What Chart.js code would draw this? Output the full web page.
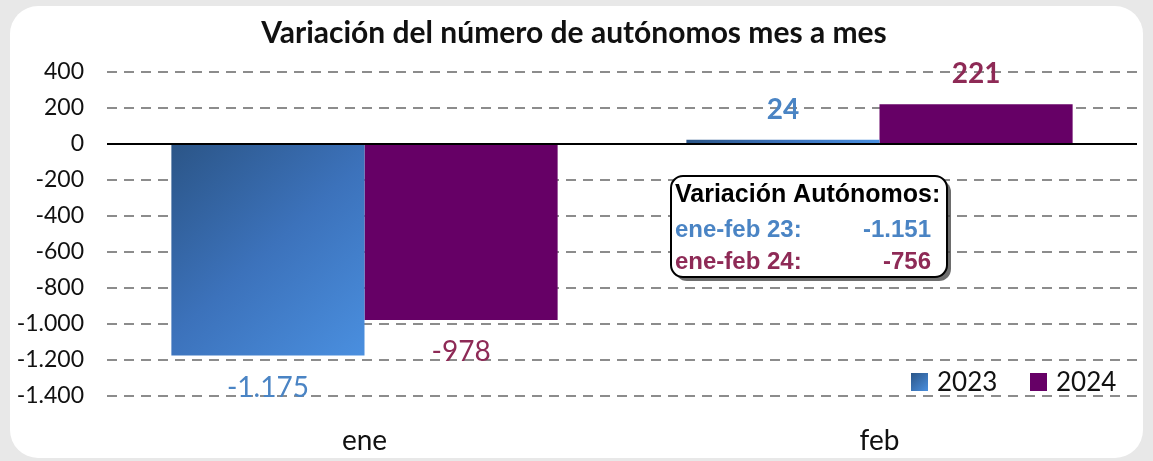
<!DOCTYPE html>
<html>
<head>
<meta charset="utf-8">
<script src="https://cdn.jsdelivr.net/npm/chart.js@4.4.1/dist/chart.umd.min.js"></script>
<style>
  body { margin: 0; background: #e8e8e8; }
  #panel { position: absolute; left: 10px; top: 6px; width: 1133px; height: 452px;
           background: #fff; border-radius: 28px; overflow: hidden; }
  canvas { display: block; }
</style>
</head>
<body>
<div id="panel"><canvas id="myChart" width="1133" height="452"></canvas></div>
<script>
const meses = ['ene', 'feb'];
const serie2023 = [-1175, 24];
const serie2024 = [-978, 221];
const nombres = ['2023', '2024'];
const titulo = 'Variación del número de autónomos mes a mes';
const cajaTitulo = 'Variación Autónomos:';
const cajaFilas = [['ene-feb 23:', '-1.151'], ['ene-feb 24:', '-756']];

const azulTexto = '#4a84c4';
const granate = '#8e2a56';
const morado = '#660066';

function fmt(n) { return n.toLocaleString('de-DE'); }

function gradAzul(context) {
    const chart = context.chart;
    const area = chart.chartArea;
    if (!area || context.type !== 'data') return '#3d74bd';
    const xs = chart.scales.x, ys = chart.scales.y;
    const v = context.raw;
    const catW = (area.right - area.left) / meses.length;
    const c = xs.getPixelForValue(context.dataIndex);
    const left = c - catW * 0.375, right = c;
    const top = ys.getPixelForValue(Math.max(0, v)), bottom = ys.getPixelForValue(Math.min(0, v));
    const g = chart.ctx.createLinearGradient(left, top, right, bottom);
    g.addColorStop(0, '#2b5587');
    g.addColorStop(0.5, '#3c72bb');
    g.addColorStop(1, '#4a8fdf');
    return g;
}

const extras = {
    id: 'extras',
    beforeDatasetsDraw(chart) {
        const ctx = chart.ctx, a = chart.chartArea;
        const y0 = chart.scales.y.getPixelForValue(0);
        ctx.save();
        ctx.strokeStyle = '#000';
        ctx.lineWidth = 2;
        ctx.beginPath();
        ctx.moveTo(a.left, y0);
        ctx.lineTo(a.right, y0);
        ctx.stroke();
        ctx.restore();
    },
    afterDatasetsDraw(chart) {
        const ctx = chart.ctx;
        ctx.save();
        // titulo
        ctx.fillStyle = '#111';
        ctx.font = 'bold 30px Lato';
        ctx.textAlign = 'center';
        ctx.textBaseline = 'middle';
        ctx.fillText(titulo, 564, 27);

        // etiquetas de valor
        const colores = [azulTexto, granate];
        chart.data.datasets.forEach((ds, di) => {
            chart.getDatasetMeta(di).data.forEach((el, i) => {
                const v = ds.data[i];
                ctx.fillStyle = colores[di];
                ctx.font = (i === 1 ? 'bold ' : '') + '28px Lato';
                const y = v < 0 ? el.y + 32 : el.y - 30;
                ctx.fillText(fmt(v), el.x, y);
            });
        });

        // cuadro de nota
        const bx = 661, by = 170, bw = 276, bh = 101;
        ctx.fillStyle = 'rgba(60,60,60,0.75)';
        ctx.beginPath();
        ctx.roundRect(bx + 4, by + 4, bw, bh, 12);
        ctx.fill();
        ctx.fillStyle = '#fff';
        ctx.strokeStyle = '#000';
        ctx.lineWidth = 2;
        ctx.beginPath();
        ctx.roundRect(bx, by, bw, bh, 12);
        ctx.fill();
        ctx.stroke();
        ctx.textAlign = 'left';
        ctx.fillStyle = '#000';
        ctx.font = 'bold 25px "Liberation Sans"';
        ctx.fillText(cajaTitulo, bx + 4, by + 19);
        ctx.font = 'bold 24px "Liberation Sans"';
        const filaColor = [azulTexto, granate];
        cajaFilas.forEach((f, i) => {
            const yy = by + 54 + i * 32;
            ctx.fillStyle = filaColor[i];
            ctx.textAlign = 'left';
            ctx.fillText(f[0], bx + 4, yy);
            ctx.textAlign = 'right';
            ctx.fillText(f[1], bx + 260, yy);
        });

        // leyenda
        ctx.textAlign = 'left';
        ctx.font = '26px Lato';
        const lx = [901, 1020], ly = 367;
        [0, 1].forEach(k => {
            if (k === 0) {
                const g = ctx.createLinearGradient(lx[k], ly, lx[k] + 17, ly + 18);
                g.addColorStop(0, '#2b5587');
                g.addColorStop(1, '#4a8fdf');
                ctx.fillStyle = g;
            } else {
                ctx.fillStyle = morado;
            }
            ctx.fillRect(lx[k], ly, 17, 18);
            ctx.fillStyle = '#111';
            ctx.fillText(nombres[k], lx[k] + 26, ly + 10);
        });
        ctx.restore();
    }
};

const myChart = new Chart(document.getElementById('myChart'), {
    type: 'bar',
    data: {
        labels: meses,
        datasets: [
            { label: nombres[0], data: serie2023, backgroundColor: gradAzul },
            { label: nombres[1], data: serie2024, backgroundColor: morado }
        ]
    },
    options: {
        responsive: false,
        animation: false,
        events: [],
        layout: { padding: { top: 66, right: 6, left: 0, bottom: 0 } },
        datasets: { bar: { categoryPercentage: 0.75, barPercentage: 1 } },
        plugins: { legend: { display: false }, tooltip: { enabled: false }, title: { display: false } },
        scales: {
            x: {
                grid: { display: false, drawTicks: false },
                border: { display: false },
                ticks: { color: '#111', font: { family: 'Lato', size: 28 }, padding: 28 },
                afterFit(s) { s.height = 62; }
            },
            y: {
                min: -1400, max: 400,
                grid: {
                    drawTicks: false,
                    lineWidth: 2,
                    color: c => c.tick && c.tick.value === 0 ? 'rgba(0,0,0,0)' : '#8c8c8c'
                },
                border: { display: false, dash: [10, 7] },
                ticks: {
                    stepSize: 200, color: '#111', padding: 23,
                    font: { family: 'Lato', size: 23 },
                    callback: v => fmt(v)
                },
                afterFit(s) { s.width = 97; }
            }
        }
    },
    plugins: [extras]
});
</script>
</body>
</html>
